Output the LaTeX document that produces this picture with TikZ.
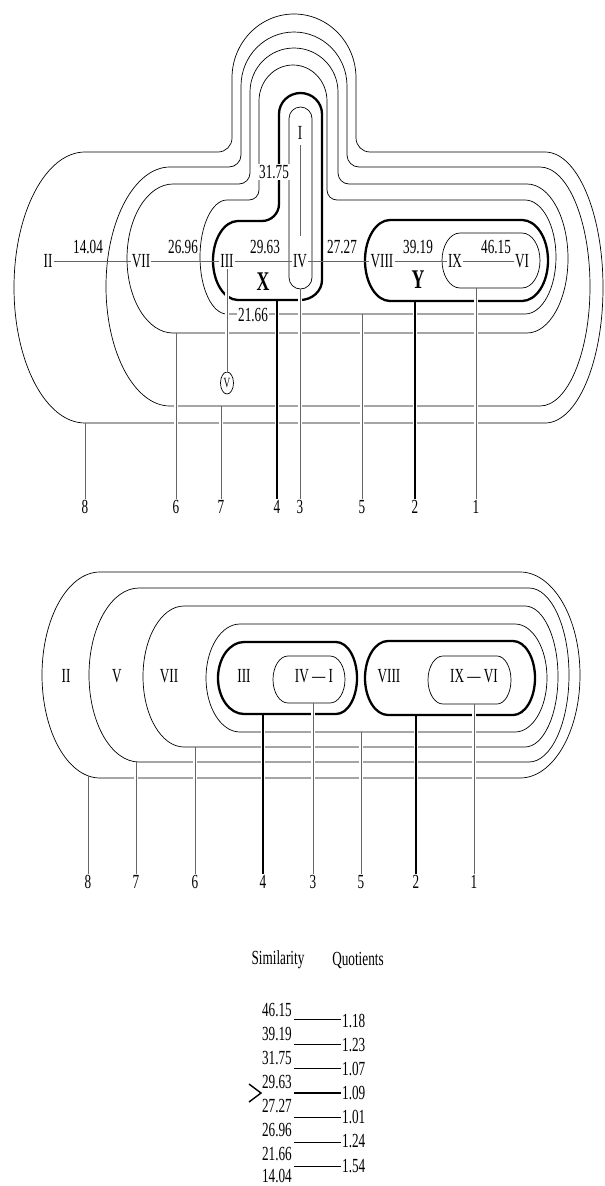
\documentclass[tikz,border=0pt]{standalone}
\usepackage{fontspec}
\setmainfont{Liberation Serif}[FakeStretch=0.66]
\usetikzlibrary{shapes.geometric}
\tikzset{
  contour/.style={draw=black, line width=0.7pt},
  boldcontour/.style={draw=black, line width=2.3pt},
  hline/.style={draw=black!60, line width=0.9pt},
  conn/.style={draw=black!60, line width=0.9pt, preaction={draw=white, line width=3.2pt, shorten <=2pt}},
  boldconn/.style={draw=black, line width=2pt, preaction={draw=white, line width=4.5pt, shorten <=2.5pt}},
  lbl/.style={font=\fontsize{20}{22}\selectfont, inner sep=1pt},
  biglbl/.style={font=\bfseries\fontsize{27}{29}\selectfont, inner sep=1pt},
  tag/.style={font=\fontsize{20}{22}\selectfont, inner sep=1pt, fill=white},
  tabline/.style={draw=black, line width=0.8pt},
}
\begin{document}
\begin{tikzpicture}[x=1pt,y=1pt]
\useasboundingbox (0,0) rectangle (605,-1186);

% ================= TOP DIAGRAM =================
% contour 8
\draw[contour] (85,-152) -- (218,-152) arc[start angle=270,end angle=360,radius=14pt]
  -- (232,-78) arc[start angle=180,end angle=0,x radius=62pt,y radius=64pt]
  -- (356,-138) arc[start angle=180,end angle=270,radius=14pt]
  -- (545,-152) arc[start angle=90,end angle=-90,x radius=58pt,y radius=135.5pt]
  -- (85,-423) arc[start angle=270,end angle=90,x radius=71pt,y radius=135.5pt] -- cycle;
% contour 7
\draw[contour] (170,-167) -- (229,-167) arc[start angle=270,end angle=360,radius=12pt]
  -- (241,-86) arc[start angle=180,end angle=0,x radius=53pt,y radius=54pt]
  -- (347,-155) arc[start angle=180,end angle=270,radius=12pt]
  -- (540,-167) arc[start angle=90,end angle=-90,x radius=50pt,y radius=119.5pt]
  -- (170,-406) arc[start angle=270,end angle=90,x radius=64pt,y radius=119.5pt] -- cycle;
% contour 6
\draw[contour] (173,-184) -- (239,-184) arc[start angle=270,end angle=360,radius=11pt]
  -- (250,-92) arc[start angle=180,end angle=0,x radius=44pt,y radius=44pt]
  -- (338,-173) arc[start angle=180,end angle=270,radius=11pt]
  -- (527,-184) arc[start angle=90,end angle=-90,x radius=41pt,y radius=74.5pt]
  -- (173,-333) arc[start angle=270,end angle=90,x radius=46pt,y radius=74.5pt] -- cycle;
% contour 5
\draw[contour] (227,-200) -- (249,-200) arc[start angle=270,end angle=360,radius=10pt]
  -- (259,-101) arc[start angle=180,end angle=0,x radius=34pt,y radius=36pt]
  -- (327,-190) arc[start angle=180,end angle=270,radius=10pt]
  -- (525,-200) arc[start angle=90,end angle=-90,x radius=31pt,y radius=57pt]
  -- (227,-314) arc[start angle=270,end angle=90,x radius=27pt,y radius=57pt] -- cycle;
% contour 4 (X)
\draw[boldcontour] (279,-204) -- (279,-114) arc[start angle=180,end angle=0,x radius=21.5pt,y radius=21pt]
  -- (322,-280) arc[start angle=0,end angle=-90,x radius=22pt,y radius=20pt]
  -- (238,-300) arc[start angle=270,end angle=90,x radius=25pt,y radius=39.5pt]
  -- (262,-221) arc[start angle=270,end angle=360,radius=17pt] -- cycle;
% contour 3 (I-IV)
\draw[contour, rounded corners=11.5pt] (289,-107) rectangle (312,-289);
% contour 2 (Y)
\draw[boldcontour] (390,-220) -- (522,-220) arc[start angle=90,end angle=-90,x radius=26pt,y radius=40.5pt]
  -- (390,-301) arc[start angle=270,end angle=90,x radius=25pt,y radius=40.5pt] -- cycle;
% contour 1 (IX-VI)
\draw[contour] (460,-233) -- (522,-233) arc[start angle=90,end angle=-90,x radius=18pt,y radius=27.5pt]
  -- (460,-288) arc[start angle=270,end angle=90,x radius=18pt,y radius=27.5pt] -- cycle;

% nodes
\node[lbl] (II) at (48,-261) {II};
\node[lbl] (VII) at (141,-261) {VII};
\node[lbl] (III) at (227,-261) {III};
\node[lbl] (IV) at (300,-261) {IV};
\node[lbl] (VIII) at (382,-261) {VIII};
\node[lbl] (IX) at (455,-261) {IX};
\node[lbl] (VI) at (522,-261) {VI};
\node[lbl] (I) at (300,-133) {I};
\node[draw, ellipse, minimum width=13pt, minimum height=22pt, inner sep=0pt, line width=0.7pt,
      font=\fontsize{14}{15}\selectfont] (V) at (227,-383) {V};

\node[lbl] (v1404) at (88,-247) {14.04};
\node[lbl] (v2696) at (183,-247) {26.96};
\node[lbl] (v2963) at (265,-247) {29.63};
\node[lbl] (v2727) at (342,-247) {27.27};
\node[lbl] (v3919) at (418,-247) {39.19};
\node[lbl] (v4615) at (496,-247) {46.15};
\node[tag] (v3175) at (274,-172) {31.75};
\node[tag] (v2166) at (253,-315) {21.66};
\node[biglbl] (X) at (263,-282) {X};
\node[biglbl] (Y) at (418,-280) {Y};

\draw[hline] (II) -- (VII);
\draw[hline] (VII) -- (III);
\draw[hline] (III) -- (IV);
\draw[hline] (IV) -- (VIII);
\draw[hline] (VIII) -- (IX);
\draw[hline] (IX) -- (VI);
\draw[hline, shorten <=4pt, shorten >=17pt] (I) -- (IV);
\draw[conn] (III) -- (V);

% numbered connectors (top)
\node[lbl] (t8) at (85,-507) {8};
\node[lbl] (t6) at (176,-507) {6};
\node[lbl] (t7) at (221,-507) {7};
\node[lbl] (t4) at (277,-507) {4};
\node[lbl] (t3) at (300,-507) {3};
\node[lbl] (t5) at (362,-507) {5};
\node[lbl] (t2) at (415,-507) {2};
\node[lbl] (t1) at (476,-507) {1};
\coordinate (ct8) at (85,-423);
\coordinate (ct6) at (176,-333);
\coordinate (ct7) at (221,-406);
\coordinate (ct4) at (277,-300);
\coordinate (ct3) at (300,-289);
\coordinate (ct5) at (362,-314);
\coordinate (ct2) at (415,-301);
\coordinate (ct1) at (476,-288);
\draw[conn] (ct8) -- (t8.north);
\draw[conn] (ct6) -- (t6.north);
\draw[conn] (ct7) -- (t7.north);
\draw[boldconn] (ct4) -- (t4.north);
\draw[conn] (ct3) -- (t3.north);
\draw[conn] (ct5) -- (t5.north);
\draw[boldconn] (ct2) -- (t2.north);
\draw[conn] (ct1) -- (t1.north);

% ================= MIDDLE DIAGRAM =================
\draw[contour] (100,-572) -- (520,-572) arc[start angle=90,end angle=-90,x radius=60pt,y radius=103pt]
  -- (100,-778) arc[start angle=270,end angle=90,x radius=58pt,y radius=103pt] -- cycle;
\draw[contour] (139,-588) -- (529,-588) arc[start angle=90,end angle=-90,x radius=40pt,y radius=87pt]
  -- (139,-762) arc[start angle=270,end angle=90,x radius=50pt,y radius=87pt] -- cycle;
\draw[contour] (184,-606) -- (525,-606) arc[start angle=90,end angle=-90,x radius=33pt,y radius=70.5pt]
  -- (184,-747) arc[start angle=270,end angle=90,x radius=41pt,y radius=70.5pt] -- cycle;
\draw[contour] (240,-624) -- (515,-624) arc[start angle=90,end angle=-90,x radius=32pt,y radius=54pt]
  -- (240,-732) arc[start angle=270,end angle=90,x radius=34pt,y radius=54pt] -- cycle;
\draw[boldcontour] (244,-642) -- (336,-642) arc[start angle=90,end angle=-90,x radius=21pt,y radius=36pt]
  -- (244,-714) arc[start angle=270,end angle=90,x radius=26pt,y radius=36pt] -- cycle;
\draw[contour] (288,-656) -- (330,-656) arc[start angle=90,end angle=-90,x radius=15pt,y radius=23.5pt]
  -- (288,-703) arc[start angle=270,end angle=90,x radius=15pt,y radius=23.5pt] -- cycle;
\draw[boldcontour] (388,-641) -- (513,-641) arc[start angle=90,end angle=-90,x radius=22pt,y radius=37pt]
  -- (388,-715) arc[start angle=270,end angle=90,x radius=23pt,y radius=37pt] -- cycle;
\draw[contour] (443,-656) -- (497,-656) arc[start angle=90,end angle=-90,x radius=14pt,y radius=24pt]
  -- (443,-704) arc[start angle=270,end angle=90,x radius=15pt,y radius=24pt] -- cycle;

\node[lbl] (mII) at (66,-676) {II};
\node[lbl] (mV) at (117,-676) {V};
\node[lbl] (mVII) at (169,-676) {VII};
\node[lbl] (mIII) at (244,-676) {III};
\node[lbl] (mIVI) at (314,-676) {IV\,—\,I};
\node[lbl] (mVIII) at (389,-676) {VIII};
\node[lbl] (mIXVI) at (474,-676) {IX\,—\,VI};

\node[lbl] (m8) at (88,-882) {8};
\node[lbl] (m7) at (136,-882) {7};
\node[lbl] (m6) at (195,-882) {6};
\node[lbl] (m4) at (263,-882) {4};
\node[lbl] (m3) at (313,-882) {3};
\node[lbl] (m5) at (361,-882) {5};
\node[lbl] (m2) at (416,-882) {2};
\node[lbl] (m1) at (474,-882) {1};
\coordinate (cm8) at (88,-776);
\coordinate (cm7) at (136,-762);
\coordinate (cm6) at (195,-747);
\coordinate (cm4) at (263,-714);
\coordinate (cm3) at (313,-703);
\coordinate (cm5) at (361,-732);
\coordinate (cm2) at (416,-715);
\coordinate (cm1) at (474,-704);
\draw[conn] (cm8) -- (m8.north);
\draw[conn] (cm7) -- (m7.north);
\draw[conn] (cm6) -- (m6.north);
\draw[boldconn] (cm4) -- (m4.north);
\draw[conn] (cm3) -- (m3.north);
\draw[conn] (cm5) -- (m5.north);
\draw[boldconn] (cm2) -- (m2.north);
\draw[conn] (cm1) -- (m1.north);

% ================= TABLE =================
\node[lbl] (hs) at (278,-960) {Similarity};
\node[lbl] (hq) at (358,-960) {Quotients};
\node[lbl, anchor=east] (s1) at (293,-1010) {46.15};
\node[lbl, anchor=east] (s2) at (293,-1034) {39.19};
\node[lbl, anchor=east] (s3) at (293,-1058) {31.75};
\node[lbl, anchor=east] (s4) at (293,-1082) {29.63};
\node[lbl, anchor=east] (s5) at (293,-1106) {27.27};
\node[lbl, anchor=east] (s6) at (293,-1130) {26.96};
\node[lbl, anchor=east] (s7) at (293,-1154) {21.66};
\node[lbl, anchor=east] (s8) at (293,-1176) {14.04};
\node[lbl, anchor=west] (q1) at (341,-1021) {1.18};
\node[lbl, anchor=west] (q2) at (341,-1045) {1.23};
\node[lbl, anchor=west] (q3) at (341,-1069) {1.07};
\node[lbl, anchor=west] (q4) at (341,-1093) {1.09};
\node[lbl, anchor=west] (q5) at (341,-1117) {1.01};
\node[lbl, anchor=west] (q6) at (341,-1141) {1.24};
\node[lbl, anchor=west] (q7) at (341,-1166) {1.54};
\coordinate (a1) at (294,-1019);
\coordinate (a2) at (294,-1044);
\coordinate (a3) at (294,-1068);
\coordinate (a4) at (294,-1093);
\coordinate (a5) at (294,-1117);
\coordinate (a6) at (294,-1142);
\coordinate (a7) at (294,-1166);
\draw[tabline] (a1) -- (a1 -| q1.west);
\draw[tabline] (a2) -- (a2 -| q2.west);
\draw[tabline] (a3) -- (a3 -| q3.west);
\draw[tabline, line width=2.8pt] (a4) -- (a4 -| q4.west);
\draw[tabline] (a5) -- (a5 -| q5.west);
\draw[tabline] (a6) -- (a6 -| q6.west);
\draw[tabline] (a7) -- (a7 -| q7.west);
\coordinate (g1) at (249,-1084);
\coordinate (g2) at (261,-1093);
\coordinate (g3) at (249,-1102);
\draw[line width=1.4pt] (g1) -- (g2) -- (g3);
\end{tikzpicture}
\end{document}
